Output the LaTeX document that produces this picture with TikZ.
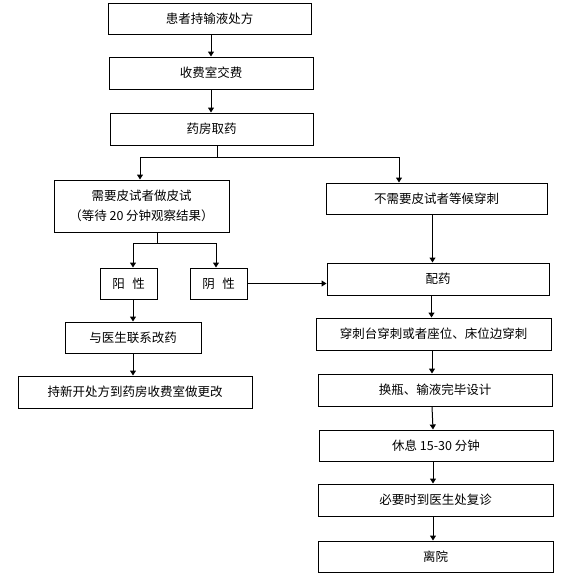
\documentclass[tikz,border=0pt]{standalone}
\usepackage{fontspec}
\setmainfont{Noto Sans CJK SC}
\usetikzlibrary{arrows.meta}
\begin{document}
\begin{tikzpicture}[x=1pt,y=-1pt,
  box/.style={draw,line width=1pt,inner sep=0pt,font=\fontsize{12.5}{20}\selectfont,align=center},
  arr/.style={line width=1pt,-{Triangle[width=6pt,length=5pt]}},
  ln/.style={line width=1pt}]
\useasboundingbox (0,0) rectangle (564,581);
\node[box,minimum width=203pt,minimum height=31pt] (b1) at (209.5,18.5) {患者持输液处方};
\node[box,minimum width=204pt,minimum height=32pt] (b2) at (211,73) {收费室交费};
\node[box,minimum width=203pt,minimum height=32pt] (b3) at (211.5,129) {药房取药};
\node[box,minimum width=175pt,minimum height=52pt] (skin) at (141.5,206) {需要皮试者做皮试\\（等待 20 分钟观察结果）};
\node[box,minimum width=57pt,minimum height=31pt] (pos) at (128.5,283.5) {阳\hspace{0.6em}性};
\node[box,minimum width=57pt,minimum height=31pt] (neg) at (218.5,283.5) {阴\hspace{0.6em}性};
\node[box,minimum width=136pt,minimum height=31pt] (doc) at (133,337.5) {与医生联系改药};
\node[box,minimum width=234pt,minimum height=32pt] (newrx) at (135,392) {持新开处方到药房收费室做更改};
\node[box,minimum width=221pt,minimum height=31pt] (noskin) at (436.5,198.5) {不需要皮试者等候穿刺};
\node[box,minimum width=222pt,minimum height=32pt] (mix) at (438,279) {配药};
\node[box,minimum width=235pt,minimum height=32pt] (punct) at (433.5,334) {穿刺台穿刺或者座位、床位边穿刺};
\node[box,minimum width=234pt,minimum height=32pt] (change) at (435,390) {换瓶、输液完毕设计};
\node[box,minimum width=234pt,minimum height=31pt] (rest) at (436,445.5) {休息 15-30 分钟};
\node[box,minimum width=235pt,minimum height=32pt] (revisit) at (435.5,500) {必要时到医生处复诊};
\node[box,minimum width=235pt,minimum height=31pt] (leave) at (435.5,556.5) {离院};
% top chain
\draw[arr] ([xshift=1.5pt]b1.south) -- ([xshift=0pt]b2.north);
\draw[arr] ([xshift=0pt]b2.south) -- ([xshift=-0.5pt]b3.north);
% branch
\coordinate (br) at ([xshift=5.5pt]b3.south);
\coordinate (brj) at ([yshift=-12pt]br);
\draw[ln] (br) -- (brj);
\draw[arr] (brj) -| ([xshift=-1.5pt]skin.north);
\draw[arr] (brj) -| ([xshift=-37.5pt]noskin.north);
% skin test branch
\coordinate (sk) at ([xshift=15.5pt]skin.south);
\coordinate (skj) at ([yshift=-11pt]sk);
\draw[ln] (sk) -- (skj);
\draw[arr] (skj) -| ([xshift=4.5pt]pos.north);
\draw[arr] (skj) -| ([xshift=-2.5pt]neg.north);
\draw[arr] ([xshift=4.5pt]pos.south) -- (doc.north);
\draw[arr] (doc.south) -- ([xshift=-2pt]newrx.north);
\draw[arr] (neg.east) -- (neg.east -| mix.west);
% right chain
\draw[arr] ([xshift=-4pt]noskin.south) -- ([xshift=-5.5pt]mix.north);
\draw[arr] ([xshift=-6.5pt]mix.south) -- ([xshift=-2pt]punct.north);
\draw[arr] ([xshift=-1.5pt]punct.south) -- ([xshift=-3pt]change.north);
\draw[arr] ([xshift=-3pt]change.south) -- ([xshift=-3pt]rest.north);
\draw[arr] ([xshift=-3pt]rest.south) -- ([xshift=-2.5pt]revisit.north);
\draw[arr] ([xshift=-2.5pt]revisit.south) -- ([xshift=-2.5pt]leave.north);
\end{tikzpicture}
\end{document}
